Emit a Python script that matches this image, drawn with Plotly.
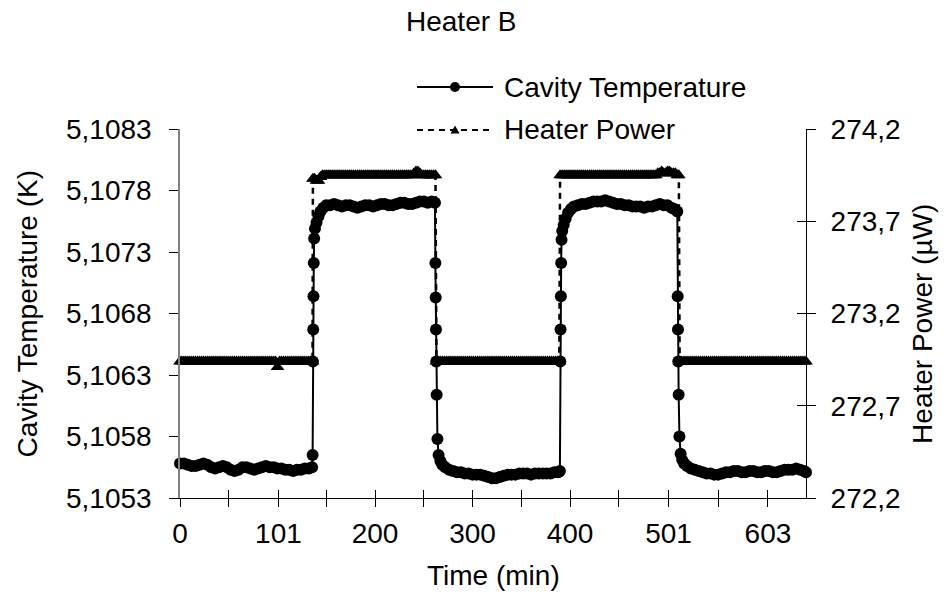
import plotly.graph_objects as go

# ---------------- data ----------------
# Cavity temperature (K) versus elapsed time (min)
cavity_time_min = [
    0, 4, 8, 12, 16, 20, 24, 28, 32, 36, 40, 44, 48, 52, 56, 60, 64, 68, 72, 76,
    80, 84, 88, 92, 96, 100, 104, 108, 112, 116, 120, 124, 128, 132, 135.5,
    136.0, 136.3, 136.6, 136.9, 137.2, 137.6, 138.4, 140, 142, 144, 147, 150,
    154, 158, 162, 166, 170, 174, 178, 182, 186, 190, 194, 198, 202, 206, 210,
    214, 218, 222, 226, 230, 234, 238, 242, 246, 250, 254, 258, 261.5,
    261.9, 262.2, 262.5, 262.8, 263.2, 264.0, 265.2, 267, 269, 272,
    276, 280, 284, 288, 292, 296, 300, 304, 308, 312, 316, 320, 324, 328, 332,
    336, 340, 344, 348, 352, 356, 360, 364, 368, 372, 376, 380, 384, 388, 389.6,
    390.0, 390.3, 390.6, 390.9, 391.3, 392.0, 393.5, 395.5, 398, 401, 404, 408,
    412, 416, 420, 424, 428, 432, 436, 440, 444, 448, 452, 456, 460, 464, 468,
    472, 476, 480, 484, 488, 492, 496, 500, 504, 507, 510.0,
    510.4, 510.7, 511.0, 511.4, 512.2, 513.4, 515, 517, 520,
    524, 528, 532, 536, 540, 544, 548, 552, 556, 560, 564, 568, 572, 576, 580,
    584, 588, 592, 596, 600, 604, 608, 612, 616, 620, 624, 628, 632, 636, 640, 642,
]
cavity_temp_K = [
    5.10558, 5.10558, 5.10557, 5.10556, 5.10556, 5.10557, 5.10558, 5.10557, 5.10555, 5.10554,
    5.10555, 5.10556, 5.10555, 5.10553, 5.10552, 5.10553, 5.10555, 5.10555, 5.10554, 5.10553,
    5.10554, 5.10555, 5.10556, 5.10555, 5.10555, 5.10554, 5.10554, 5.10553, 5.10553, 5.10552,
    5.10553, 5.10553, 5.10554, 5.10554, 5.10555,
    5.10565, 5.10641, 5.10667, 5.10694, 5.10721, 5.10741, 5.10749, 5.10754, 5.10759, 5.10763,
    5.10766, 5.10768,
    5.10768, 5.10769, 5.10768, 5.10767, 5.10768, 5.10768, 5.10767, 5.10766, 5.10767, 5.10768,
    5.10768, 5.10767, 5.10768, 5.10769, 5.10769, 5.10768, 5.10768, 5.10769, 5.10770, 5.10770,
    5.10769, 5.10769, 5.10770, 5.10771, 5.10771, 5.10770, 5.10771, 5.10770,
    5.10721, 5.10693, 5.10667, 5.10641, 5.10614, 5.10578, 5.10565, 5.10560, 5.10557, 5.10555,
    5.10553, 5.10552, 5.10551, 5.10551, 5.10550, 5.10550, 5.10549, 5.10549, 5.10549, 5.10548,
    5.10547, 5.10546, 5.10546, 5.10547, 5.10548, 5.10549, 5.10549, 5.10549, 5.10550, 5.10550,
    5.10550, 5.10549, 5.10550, 5.10550, 5.10550, 5.10550, 5.10550, 5.10551, 5.10551, 5.10552,
    5.10641, 5.10667, 5.10694, 5.10721, 5.10740, 5.10747, 5.10752, 5.10757, 5.10762, 5.10765,
    5.10767, 5.10768,
    5.10769, 5.10769, 5.10770, 5.10771, 5.10771, 5.10771, 5.10772, 5.10771, 5.10770, 5.10769,
    5.10769, 5.10768, 5.10768, 5.10767, 5.10767, 5.10767, 5.10766, 5.10767, 5.10767, 5.10768,
    5.10769, 5.10768, 5.10768, 5.10766, 5.10765, 5.10763,
    5.10694, 5.10667, 5.10641, 5.10614, 5.10580, 5.10566, 5.10561, 5.10558, 5.10556,
    5.10554, 5.10553, 5.10552, 5.10551, 5.10550, 5.10550, 5.10549, 5.10549, 5.10550, 5.10551,
    5.10551, 5.10552, 5.10552, 5.10551, 5.10551, 5.10552, 5.10552, 5.10551, 5.10551, 5.10552,
    5.10552, 5.10551, 5.10551, 5.10552, 5.10553, 5.10553, 5.10553, 5.10554, 5.10553, 5.10552,
    5.10551,
]

# Heater power (uW) versus elapsed time (min)
heater_time_min = [
    # off, 0-136 min
    0, 2, 4, 6, 8, 10, 12, 14, 16, 18, 20, 22, 24, 26, 28, 30, 32, 34, 36, 38,
    40, 42, 44, 46, 48, 50, 52, 54, 56, 58, 60, 62, 64, 66, 68, 70, 72, 74, 76, 78,
    80, 82, 84, 86, 88, 90, 92, 94, 96, 98, 100, 102, 104, 106, 108, 110, 112, 114,
    116, 118, 120, 122, 124, 126, 128, 130, 132, 134, 135.9,
    # on, 136-262 min
    136.3, 138, 140, 142, 144, 146, 148, 150, 152, 154, 156, 158, 160, 162, 164,
    166, 168, 170, 172, 174, 176, 178, 180, 182, 184, 186, 188, 190, 192, 194,
    196, 198, 200, 202, 204, 206, 208, 210, 212, 214, 216, 218, 220, 222, 224,
    226, 228, 230, 232, 234, 236, 238, 240, 242, 244, 246, 248, 250, 252, 254,
    256, 258, 260, 262,
    # off, 263-389 min
    263, 265, 267, 269, 271, 273, 275, 277, 279, 281, 283, 285, 287, 289, 291,
    293, 295, 297, 299, 301, 303, 305, 307, 309, 311, 313, 315, 317, 319, 321,
    323, 325, 327, 329, 331, 333, 335, 337, 339, 341, 343, 345, 347, 349, 351,
    353, 355, 357, 359, 361, 363, 365, 367, 369, 371, 373, 375, 377, 379, 381,
    383, 385, 387, 389,
    # on, 390-512 min
    389.8, 392, 394, 396, 398, 400, 402, 404, 406, 408, 410, 412, 414, 416, 418,
    420, 422, 424, 426, 428, 430, 432, 434, 436, 438, 440, 442, 444, 446, 448,
    450, 452, 454, 456, 458, 460, 462, 464, 466, 468, 470, 472, 474, 476, 478,
    480, 482, 484, 486, 488, 490, 492, 494, 496, 498, 500, 502, 504, 506, 508,
    510, 511.6,
    # off, 512-642 min
    512.4, 514, 516, 518, 520, 522, 524, 526, 528, 530, 532, 534, 536, 538, 540,
    542, 544, 546, 548, 550, 552, 554, 556, 558, 560, 562, 564, 566, 568, 570,
    572, 574, 576, 578, 580, 582, 584, 586, 588, 590, 592, 594, 596, 598, 600,
    602, 604, 606, 608, 610, 612, 614, 616, 618, 620, 622, 624, 626, 628, 630,
    632, 634, 636, 638, 640, 642,
]
heater_power_uW = [
    # off, 0-136 min
    272.94, 272.94, 272.94, 272.94, 272.94, 272.94, 272.94, 272.94, 272.94, 272.94,
    272.94, 272.94, 272.94, 272.94, 272.94, 272.94, 272.94, 272.94, 272.94, 272.94,
    272.94, 272.94, 272.94, 272.94, 272.94, 272.94, 272.94, 272.94, 272.94, 272.94,
    272.94, 272.94, 272.94, 272.94, 272.94, 272.94, 272.94, 272.94, 272.94, 272.94,
    272.94, 272.94, 272.94, 272.94, 272.94, 272.94, 272.94, 272.94, 272.94, 272.94,
    272.91, 272.94, 272.94, 272.94, 272.94, 272.94, 272.94, 272.94, 272.94, 272.94,
    272.94, 272.94, 272.94, 272.94, 272.94, 272.94, 272.94, 272.94, 272.94,
    # on, 136-262 min
    273.93, 273.93, 273.92, 273.92, 273.94, 273.95, 273.95, 273.95, 273.95, 273.95,
    273.95, 273.95, 273.95, 273.95, 273.95, 273.95, 273.95, 273.95, 273.95, 273.95,
    273.95, 273.95, 273.95, 273.95, 273.95, 273.95, 273.95, 273.95, 273.95, 273.95,
    273.95, 273.95, 273.95, 273.95, 273.95, 273.95, 273.95, 273.95, 273.95, 273.95,
    273.95, 273.95, 273.95, 273.95, 273.95, 273.95, 273.95, 273.95, 273.95, 273.95,
    273.95, 273.95, 273.96, 273.97, 273.97, 273.96, 273.95, 273.95, 273.95, 273.95,
    273.95, 273.95, 273.95, 273.95,
    # off, 263-389 min
    272.94, 272.94, 272.94, 272.94, 272.94, 272.94, 272.94, 272.94, 272.94, 272.94,
    272.94, 272.94, 272.94, 272.94, 272.94, 272.94, 272.94, 272.94, 272.94, 272.94,
    272.94, 272.94, 272.94, 272.94, 272.94, 272.94, 272.94, 272.94, 272.94, 272.94,
    272.94, 272.94, 272.94, 272.94, 272.94, 272.94, 272.94, 272.94, 272.94, 272.94,
    272.94, 272.94, 272.94, 272.94, 272.94, 272.94, 272.94, 272.94, 272.94, 272.94,
    272.94, 272.94, 272.94, 272.94, 272.94, 272.94, 272.94, 272.94, 272.94, 272.94,
    272.94, 272.94, 272.94, 272.94,
    # on, 390-512 min
    273.95, 273.95, 273.95, 273.95, 273.95, 273.95, 273.95, 273.95, 273.95, 273.95,
    273.95, 273.95, 273.95, 273.95, 273.95, 273.95, 273.95, 273.95, 273.95, 273.95,
    273.95, 273.95, 273.95, 273.95, 273.95, 273.95, 273.95, 273.95, 273.95, 273.95,
    273.95, 273.95, 273.95, 273.95, 273.95, 273.95, 273.95, 273.95, 273.95, 273.95,
    273.95, 273.95, 273.95, 273.95, 273.95, 273.95, 273.95, 273.95, 273.95, 273.95,
    273.96, 273.96, 273.97, 273.96, 273.96, 273.97, 273.97, 273.96, 273.96, 273.96,
    273.95, 273.95,
    # off, 512-642 min
    272.94, 272.94, 272.94, 272.94, 272.94, 272.94, 272.94, 272.94, 272.94, 272.94,
    272.94, 272.94, 272.94, 272.94, 272.94, 272.94, 272.94, 272.94, 272.94, 272.94,
    272.94, 272.94, 272.94, 272.94, 272.94, 272.94, 272.94, 272.94, 272.94, 272.94,
    272.94, 272.94, 272.94, 272.94, 272.94, 272.94, 272.94, 272.94, 272.94, 272.94,
    272.94, 272.94, 272.94, 272.94, 272.94, 272.94, 272.94, 272.94, 272.94, 272.94,
    272.94, 272.94, 272.94, 272.94, 272.94, 272.94, 272.94, 272.94, 272.94, 272.94,
    272.94, 272.94, 272.94, 272.94, 272.94, 272.94,
]

assert len(cavity_time_min) == len(cavity_temp_K), (len(cavity_time_min), len(cavity_temp_K))
assert len(heater_time_min) == len(heater_power_uW), (len(heater_time_min), len(heater_power_uW))

# Axis ticks
time_tick_vals = [0, 50, 101, 150, 200, 250, 300, 350, 400, 450, 501, 552, 603]
time_tick_text = ["0", "", "101", "", "200", "", "300", "", "400", "", "501", "", "603"]
temp_tick_vals = [5.1053, 5.1058, 5.1063, 5.1068, 5.1073, 5.1078, 5.1083]
power_tick_vals = [272.2, 272.7, 273.2, 273.7, 274.2]

time_range = [0, 642]
temp_range = [5.1053, 5.1083]
power_range = [272.2, 274.2]

FONT = "Liberation Sans, Arial, sans-serif"
FS = 28
INK = "black"

fig = go.Figure()

fig.add_trace(go.Scatter(
    x=cavity_time_min, y=cavity_temp_K, name="Cavity Temperature",
    mode="lines+markers", yaxis="y", xaxis="x", cliponaxis=False,
    line=dict(color=INK, width=2),
    marker=dict(symbol="circle", size=12, color=INK),
    showlegend=False,
))
fig.add_trace(go.Scatter(
    x=heater_time_min, y=heater_power_uW, name="Heater Power",
    mode="lines+markers", yaxis="y2", xaxis="x", cliponaxis=False,
    line=dict(color=INK, width=2.5, dash="6px,5px"),
    marker=dict(symbol="triangle-up", size=12, color=INK),
    showlegend=False,
))
# empty traces that carry the overlay axes used for the inner half of crossing ticks
fig.add_trace(go.Scatter(x=[], y=[], xaxis="x2", yaxis="y", showlegend=False, hoverinfo="skip"))
fig.add_trace(go.Scatter(x=[], y=[], xaxis="x", yaxis="y3", showlegend=False, hoverinfo="skip"))

axis_font = dict(family=FONT, size=FS, color=INK)

fig.update_layout(
    width=946, height=606,
    margin=dict(l=180, r=140, t=129, b=108, pad=0),
    paper_bgcolor="white", plot_bgcolor="white",
    separators=", ",
    font=axis_font,
    showlegend=False,
    xaxis=dict(
        range=time_range, tickvals=time_tick_vals, ticktext=time_tick_text,
        ticks="outside", ticklen=8, tickwidth=1, tickcolor=INK,
        showline=True, linecolor=INK, linewidth=1,
        showgrid=False, zeroline=False, tickfont=axis_font,
        anchor="y", ticklabelstandoff=2,
    ),
    xaxis2=dict(
        range=time_range, tickvals=time_tick_vals, overlaying="x", anchor="y",
        side="bottom", ticks="inside", ticklen=8, tickwidth=1, tickcolor=INK,
        showticklabels=False, showline=False, showgrid=False, zeroline=False,
    ),
    yaxis=dict(
        range=temp_range, tickvals=temp_tick_vals, tickformat=".4f",
        ticks="outside", ticklen=9, tickwidth=1, tickcolor=INK,
        showline=True, linecolor="#808080", linewidth=1.5,
        showgrid=False, zeroline=False, tickfont=axis_font,
        anchor="x", ticklabelstandoff=12,
    ),
    yaxis2=dict(
        range=power_range, tickvals=power_tick_vals, tickformat=".1f",
        overlaying="y", side="right", anchor="x",
        ticks="outside", ticklen=9, tickwidth=1, tickcolor=INK,
        showline=True, linecolor=INK, linewidth=1,
        showgrid=False, zeroline=False, tickfont=axis_font,
        ticklabelstandoff=9,
    ),
    yaxis3=dict(
        range=power_range, tickvals=power_tick_vals,
        overlaying="y", side="right", anchor="x",
        ticks="inside", ticklen=9, tickwidth=1, tickcolor=INK,
        showticklabels=False, showline=False, showgrid=False, zeroline=False,
    ),
)

# Titles placed as annotations (paper coordinates relative to the plot area)
annots = [
    dict(text="Heater B", x=0.449, y=1.29, xanchor="center", yanchor="middle"),
    dict(text="Time (min)", x=0.5, y=-0.209, xanchor="center", yanchor="middle"),
    dict(text="Cavity Temperature (K)", x=-0.243, y=0.5, textangle=-90,
         xanchor="center", yanchor="middle"),
    dict(text="Heater Power (\u00b5W)", x=1.187, y=0.472, textangle=-90,
         xanchor="center", yanchor="middle"),
    # legend labels
    dict(text="Cavity Temperature", x=0.5144, y=1.1138, xanchor="left", yanchor="middle"),
    dict(text="Heater Power", x=0.5144, y=0.9973, xanchor="left", yanchor="middle"),
]
for a in annots:
    fig.add_annotation(xref="paper", yref="paper", showarrow=False,
                       font=dict(family=FONT, size=FS, color=INK), **a)

# Legend keys: line sample plus marker symbol
leg_x0, leg_x1, leg_xm = 0.3786, 0.5, 0.4393
leg_rows = [(1.1138, "solid", "circle"), (0.9973, "6px,5px", "triangle")]
for yy, dash, sym in leg_rows:
    fig.add_shape(type="line", xref="paper", yref="paper",
                  x0=leg_x0, x1=leg_x1, y0=yy, y1=yy,
                  line=dict(color=INK, width=2, dash=dash))
    if sym == "circle":
        fig.add_shape(type="circle", xref="paper", yref="paper",
                      xsizemode="pixel", ysizemode="pixel",
                      xanchor=leg_xm, yanchor=yy, x0=-5, x1=5, y0=-5, y1=5,
                      fillcolor=INK, line=dict(color=INK, width=0))
    else:
        fig.add_shape(type="path", xref="paper", yref="paper",
                      xsizemode="pixel", ysizemode="pixel",
                      xanchor=leg_xm, yanchor=yy,
                      path="M-4.5,-3.5 L4.5,-3.5 L0,4.5 Z",
                      fillcolor=INK, line=dict(color=INK, width=0))

fig.write_html("out.html")
